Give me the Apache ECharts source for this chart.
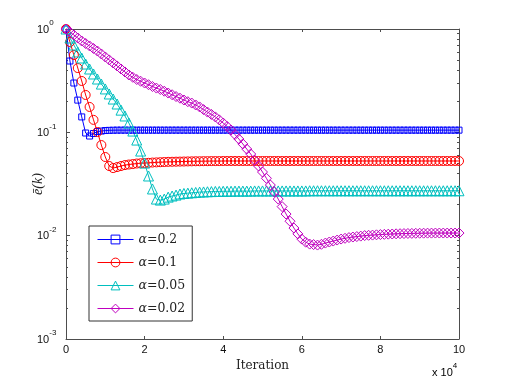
<!DOCTYPE html>
<html>
<head>
<meta charset="utf-8">
<script src="https://cdn.jsdelivr.net/npm/echarts@6/dist/echarts.min.js"></script>
<style>
	html, body { margin: 0; padding: 0; background: #fff; }
	#chart { width: 507px; height: 382px; }
</style>
</head>
<body>
<div id="chart"></div>
<script>
// sampled every 1000 iterations, k = 0..100
const iterStep = 1000

const alphaNames = ['α=0.2', 'α=0.1', 'α=0.05', 'α=0.02']

const errAlpha02 = [
	1.0, 0.49, 0.30, 0.205, 0.141, 0.0985, 0.0921, 0.0974, 0.1018, 0.1029,
	0.1041, 0.1045, 0.1048, 0.105, 0.105, 0.105, 0.105, 0.105, 0.105, 0.105,
	0.105, 0.105, 0.105, 0.105, 0.105, 0.105, 0.105, 0.105, 0.105, 0.105,
	0.105, 0.105, 0.105, 0.105, 0.105, 0.105, 0.105, 0.105, 0.105, 0.105,
	0.105, 0.105, 0.105, 0.105, 0.105, 0.105, 0.105, 0.105, 0.105, 0.105,
	0.105, 0.105, 0.105, 0.105, 0.105, 0.105, 0.105, 0.105, 0.105, 0.105,
	0.105, 0.105, 0.105, 0.105, 0.105, 0.105, 0.105, 0.105, 0.105, 0.105,
	0.105, 0.105, 0.105, 0.105, 0.105, 0.105, 0.105, 0.105, 0.105, 0.105,
	0.105, 0.105, 0.105, 0.105, 0.105, 0.105, 0.105, 0.105, 0.105, 0.105,
	0.105, 0.105, 0.105, 0.105, 0.105, 0.105, 0.105, 0.105, 0.105, 0.105,
	0.105
]

const errAlpha01 = [
	1.0, 0.748, 0.560, 0.419, 0.314, 0.230, 0.176, 0.132, 0.1007, 0.0753,
	0.0577, 0.0472, 0.0451, 0.0461, 0.0472, 0.0482, 0.0488, 0.0493, 0.0499, 0.0502,
	0.0504, 0.0507, 0.0510, 0.0512, 0.0514, 0.0516, 0.0518, 0.0519, 0.0520, 0.0521,
	0.0522, 0.0523, 0.0524, 0.0525, 0.0525, 0.0526, 0.0526, 0.0527, 0.0527, 0.0527,
	0.0528, 0.0528, 0.0528, 0.0528, 0.0528, 0.0528, 0.0528, 0.0528, 0.0528, 0.0528,
	0.0528, 0.0528, 0.0528, 0.0528, 0.0528, 0.0528, 0.0528, 0.0528, 0.0528, 0.0528,
	0.0528, 0.0528, 0.0528, 0.0528, 0.0528, 0.0528, 0.0528, 0.0528, 0.0528, 0.0528,
	0.0528, 0.0528, 0.0528, 0.0528, 0.0528, 0.0528, 0.0528, 0.0528, 0.0528, 0.0528,
	0.0528, 0.0528, 0.0528, 0.0528, 0.0528, 0.0528, 0.0528, 0.0528, 0.0528, 0.0528,
	0.0528, 0.0528, 0.0528, 0.0528, 0.0528, 0.0528, 0.0528, 0.0528, 0.0528, 0.0528,
	0.0528
]

const errAlpha005 = [
	1.0, 0.818, 0.700, 0.599, 0.524, 0.458, 0.410, 0.367, 0.328, 0.293,
	0.263, 0.235, 0.210, 0.188, 0.164, 0.144, 0.123, 0.1029, 0.0842, 0.0659,
	0.0504, 0.0378, 0.0283, 0.0226, 0.0221, 0.0226, 0.0236, 0.0242, 0.0247, 0.0253,
	0.0256, 0.0258, 0.0260, 0.0262, 0.0264, 0.0265, 0.0266, 0.0267, 0.0268, 0.0268,
	0.0269, 0.0269, 0.0269, 0.0270, 0.0270, 0.0270, 0.0270, 0.0270, 0.0271, 0.0271,
	0.0271, 0.0271, 0.0271, 0.0271, 0.0271, 0.0271, 0.0271, 0.0271, 0.0271, 0.0271,
	0.0271, 0.0271, 0.0272, 0.0272, 0.0272, 0.0272, 0.0272, 0.0272, 0.0272, 0.0272,
	0.0272, 0.0272, 0.0272, 0.0272, 0.0272, 0.0272, 0.0272, 0.0272, 0.0272, 0.0272,
	0.0272, 0.0272, 0.0272, 0.0272, 0.0272, 0.0272, 0.0272, 0.0272, 0.0272, 0.0272,
	0.0272, 0.0272, 0.0272, 0.0272, 0.0272, 0.0272, 0.0272, 0.0272, 0.0272, 0.0272,
	0.0272
]

const errAlpha002 = [
	1.0, 0.935, 0.875, 0.818, 0.765, 0.724, 0.685, 0.648, 0.612, 0.573,
	0.536, 0.502, 0.469, 0.439, 0.410, 0.384, 0.359, 0.341, 0.3245, 0.312,
	0.300, 0.289, 0.2776, 0.268, 0.2597, 0.250, 0.240, 0.231, 0.222, 0.214,
	0.2055, 0.198, 0.192, 0.184, 0.176, 0.166, 0.157, 0.149, 0.141, 0.132,
	0.123, 0.114, 0.1053, 0.0951, 0.0861, 0.0772, 0.0689, 0.0617, 0.0539, 0.0472,
	0.0413, 0.0359, 0.0309, 0.0265, 0.0226, 0.0191, 0.0162, 0.0138, 0.01185, 0.0104,
	0.00927, 0.00865, 0.00829, 0.0082, 0.00811, 0.00825, 0.00848, 0.00868, 0.00887, 0.00907,
	0.00927, 0.00943, 0.00958, 0.0097, 0.0098, 0.0099, 0.01002, 0.01008, 0.01013, 0.01019,
	0.01025, 0.0103, 0.01034, 0.01038, 0.01042, 0.01045, 0.01048, 0.0105, 0.01052, 0.01054,
	0.01056, 0.01057, 0.01058, 0.01059, 0.0106, 0.0106, 0.0106, 0.0106, 0.0106, 0.0106,
	0.0106
]

const yMajorTicks = [0.001, 0.01, 0.1, 1]
const yMinorMult = [2, 3, 4, 5, 6, 7, 8, 9]

const toPairs = (vals) => vals.map((v, i) => [i * iterStep, v])

const yMinorTicks = []
yMajorTicks.slice(0, 3).forEach(d => {
	yMinorMult.forEach(m => yMinorTicks.push(+(d * m).toPrecision(3)))
})

const axisColor = '#4d4d4d'
const sansFont = '"Liberation Sans", Arial, sans-serif'
const serifFont = '"DejaVu Serif", "Liberation Serif", serif'

// "10" with a raised exponent
const expRich = {
	b: { fontSize: 11, fontFamily: sansFont, color: '#111', lineHeight: 12, verticalAlign: 'bottom' },
	s: { fontSize: 8, fontFamily: sansFont, color: '#111', lineHeight: 8, verticalAlign: 'bottom', padding: [0, 0, 8, 0] }
}

const logAxis = (position, withLabels, ticks, tickLen) => ({
	type: 'log',
	logBase: 10,
	min: 0.001,
	max: 1,
	position: position,
	axisLine: { show: withLabels, lineStyle: { color: axisColor, width: 1 } },
	axisTick: { show: true, inside: true, length: tickLen, customValues: ticks, lineStyle: { color: axisColor } },
	axisLabel: withLabels && position === 'left' ? {
		show: true,
		align: 'left',
		margin: 29,
		formatter: (v) => '{b|10}{s|' + Math.round(Math.log10(v)) + '}',
		rich: expRich
	} : { show: false },
	splitLine: { show: false },
	minorTick: { show: false }
})

const makeSeries = (name, vals, color, symbol, size) => ({
	name: name,
	type: 'line',
	data: toPairs(vals),
	symbol: symbol,
	symbolSize: size,
	showSymbol: true,
	lineStyle: { color: color, width: 1 },
	itemStyle: { color: 'rgba(0,0,0,0)', borderColor: color, borderWidth: 1 },
	emphasis: { disabled: true },
	animation: false
})

const chart = echarts.init(document.getElementById('chart'), null, { renderer: 'canvas' })

const option = {
	animation: false,
	backgroundColor: '#fff',
	grid: { left: 66, right: 48, top: 29, bottom: 43, containLabel: false },
	legend: {
		orient: 'vertical',
		left: 89,
		top: 226,
		padding: [7, 7, 6, 8],
		itemGap: 10,
		itemWidth: 36,
		itemHeight: 11,
		backgroundColor: '#fff',
		borderColor: '#333',
		borderWidth: 1,
		borderRadius: 0,
		selectedMode: false,
		itemStyle: { borderWidth: 1 },
		lineStyle: { width: 1 },
		data: alphaNames,
		formatter: (name) => '{i|α}{r|' + name.slice(1) + '}',
		textStyle: {
			rich: {
				i: { fontFamily: serifFont, fontStyle: 'italic', fontSize: 12.5, color: '#222' },
				r: { fontFamily: serifFont, fontSize: 12.5, color: '#222' }
			}
		}
	},
	xAxis: [
		{
			type: 'value',
			min: 0,
			max: 100000,
			interval: 20000,
			position: 'bottom',
			name: 'Iteration',
			nameLocation: 'middle',
			nameGap: 17,
			nameTextStyle: { fontFamily: serifFont, fontSize: 12, color: '#222' },
			axisLine: { lineStyle: { color: axisColor, width: 1 } },
			axisTick: { inside: true, length: 3, lineStyle: { color: axisColor } },
			axisLabel: {
				margin: 5,
				fontFamily: sansFont,
				fontSize: 11,
				color: '#111',
				formatter: (v) => String(v / 10000)
			},
			splitLine: { show: false }
		},
		{
			type: 'value',
			min: 0,
			max: 100000,
			interval: 20000,
			position: 'top',
			axisLine: { lineStyle: { color: axisColor, width: 1 } },
			axisTick: { inside: true, length: 3, lineStyle: { color: axisColor } },
			axisLabel: { show: false },
			splitLine: { show: false }
		}
	],
	yAxis: [
		Object.assign(logAxis('left', true, yMajorTicks, 4), {
			name: 'ē(k)',
			nameLocation: 'middle',
			nameGap: 21,
			nameRotate: 90,
			nameMoveOverlap: false,
			nameTextStyle: { fontFamily: '"Liberation Serif", serif', fontStyle: 'italic', fontSize: 14, color: '#222' }
		}),
		logAxis('left', false, yMinorTicks, 2),
		Object.assign(logAxis('right', true, yMajorTicks, 4), { axisLabel: { show: false } }),
		logAxis('right', false, yMinorTicks, 2)
	],
	series: [
		makeSeries(alphaNames[0], errAlpha02, '#0000ff', 'rect', 6),
		makeSeries(alphaNames[1], errAlpha01, '#ff0000', 'circle', 9),
		makeSeries(alphaNames[2], errAlpha005, '#00bfbf', 'triangle', 10),
		makeSeries(alphaNames[3], errAlpha002, '#bf00bf', 'diamond', 10)
	],
	graphic: [
		{
			type: 'text',
			left: 432,
			top: 362,
			style: {
				text: '{b|x 10}{s|4}',
				rich: expRich
			}
		}
	]
}

chart.setOption(option)
</script>
</body>
</html>
